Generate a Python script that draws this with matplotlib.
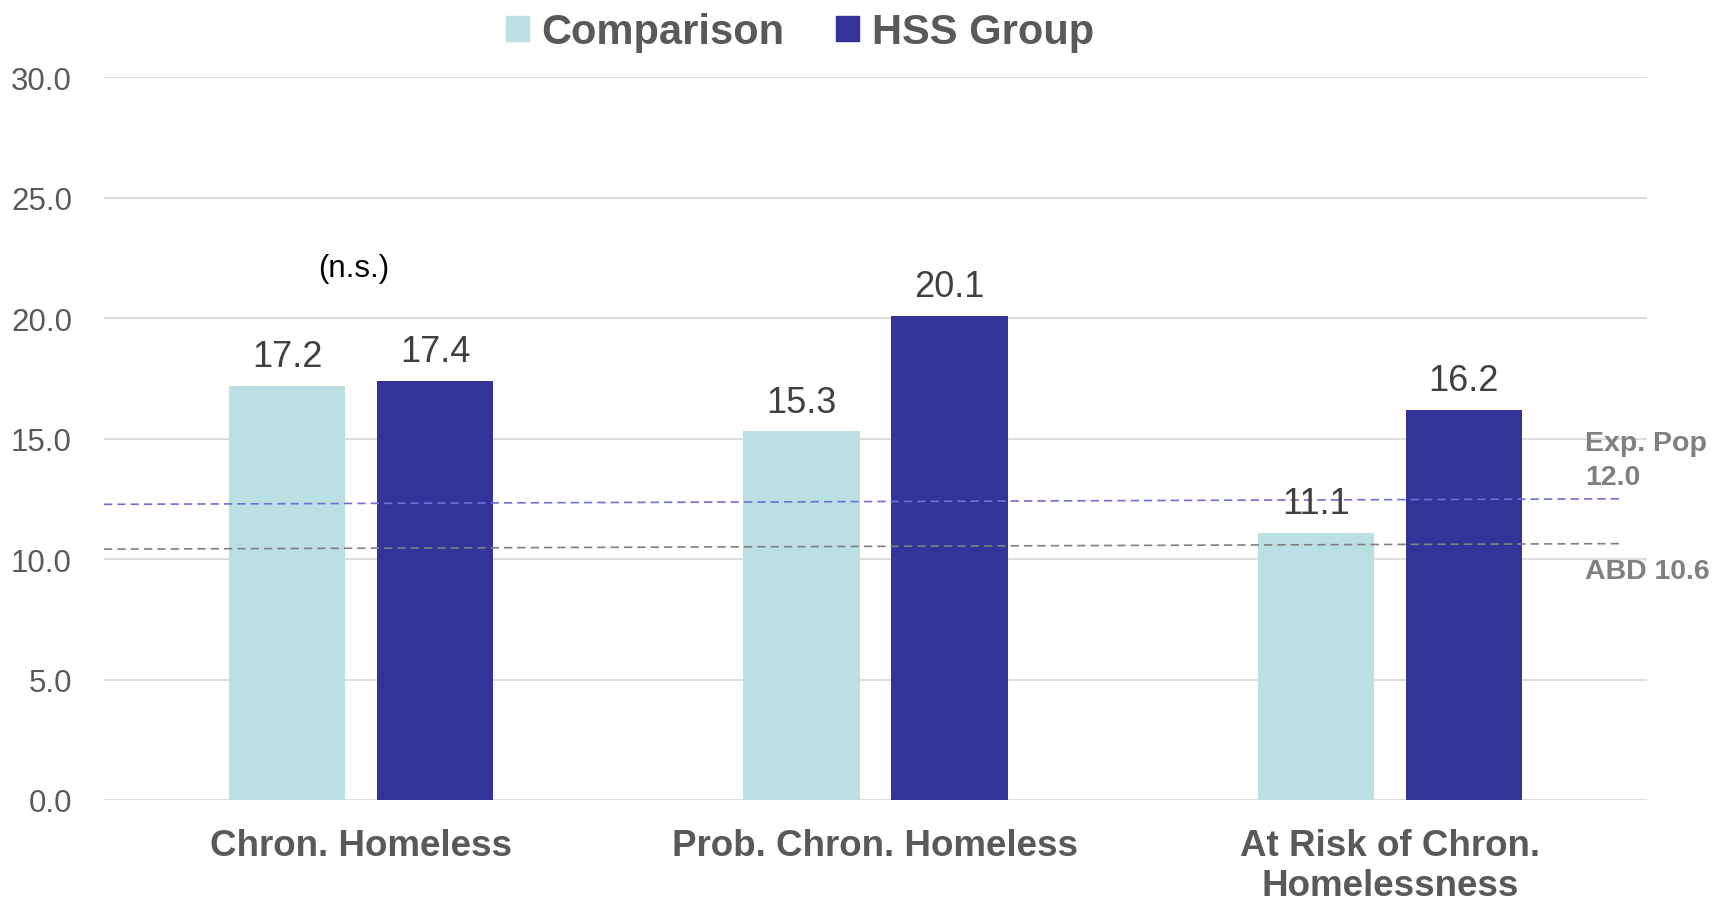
import matplotlib
matplotlib.use("Agg")
import matplotlib.pyplot as plt
import numpy as np
from matplotlib.patches import Patch

categories = ["Chron. Homeless", "Prob. Chron. Homeless", "At Risk of Chron.\nHomelessness"]
comparison = [17.2, 15.3, 11.1]
hss = [17.4, 20.1, 16.2]
series_names = ["Comparison", "HSS Group"]
exp_pop_line = [12.27, 12.5]   # sloped reference line, left/right ends
abd_line = [10.41, 10.64]
exp_pop_label = "Exp. Pop\n12.0"
abd_label = "ABD 10.6"
yticks = [0, 5, 10, 15, 20, 25, 30]

plt.rcParams['font.family'] = ['Liberation Sans', 'DejaVu Sans']

c_comp = "#BBE0E3"
c_hss = "#333399"
txt_gray = "#595959"

fig = plt.figure(figsize=(17.18, 9.03), dpi=100)
ax = fig.add_axes([0.0605, 0.113, 0.8982, 0.8004])

x = np.arange(len(categories))
w = 0.226
off = 0.144
b1 = ax.bar(x - off, comparison, w, color=c_comp, zorder=2)
b2 = ax.bar(x + off, hss, w, color=c_hss, zorder=2)

for bars, vals in ((b1, comparison), (b2, hss)):
    for rect, v in zip(bars, vals):
        ax.annotate(f"{v:.1f}", (rect.get_x() + rect.get_width() / 2, v),
                    xytext=(0, 8.5), textcoords="offset points",
                    ha="center", va="bottom", fontsize=26, color="#404040", zorder=4)

xl, xr = -0.5, 2.447
ax.plot([xl, xr], exp_pop_line, color="#6F6FD8", lw=1.2, dashes=(5, 3), zorder=3)
ax.plot([xl, xr], abd_line, color="#808080", lw=1.2, dashes=(5, 3), zorder=3)

ax.text(2.38, 14.1, exp_pop_label, fontsize=20.5, fontweight="bold", color="#808080",
        ha="left", va="center", linespacing=1.4)
ax.text(2.38, 9.5, abd_label, fontsize=20.5, fontweight="bold", color="#808080",
        ha="left", va="center")

ax.text(-0.015, 22.1, "(n.s.)", fontsize=22.5, color="black", ha="center", va="center")

ax.set_xlim(-0.5, 2.5)
ax.set_ylim(0, 30)
ax.set_yticks(yticks)
ax.set_yticklabels([f"{t:.1f}" for t in yticks])
ax.set_xticks(x)
ax.set_xticklabels(categories, fontsize=26.5, fontweight="bold", color=txt_gray, linespacing=1.2)
ax.tick_params(axis="y", length=0, pad=23, labelsize=22.5, labelcolor=txt_gray)
ax.tick_params(axis="x", length=0, pad=20)
ax.grid(axis="y", color="#D9D9D9", lw=1.3, zorder=0)
ax.set_axisbelow(True)
for s in ax.spines.values():
    s.set_visible(False)

handles = [Patch(color=c_comp), Patch(color=c_hss)]
leg = fig.legend(handles, series_names, loc="center", bbox_to_anchor=(0.4655, 0.963),
                 ncol=2, frameon=False, handlelength=0.55, handleheight=0.55,
                 handletextpad=0.3, columnspacing=1.25,
                 prop={"size": 30, "weight": "bold"})
for t in leg.get_texts():
    t.set_color(txt_gray)

fig.savefig("out.png", dpi=100)
